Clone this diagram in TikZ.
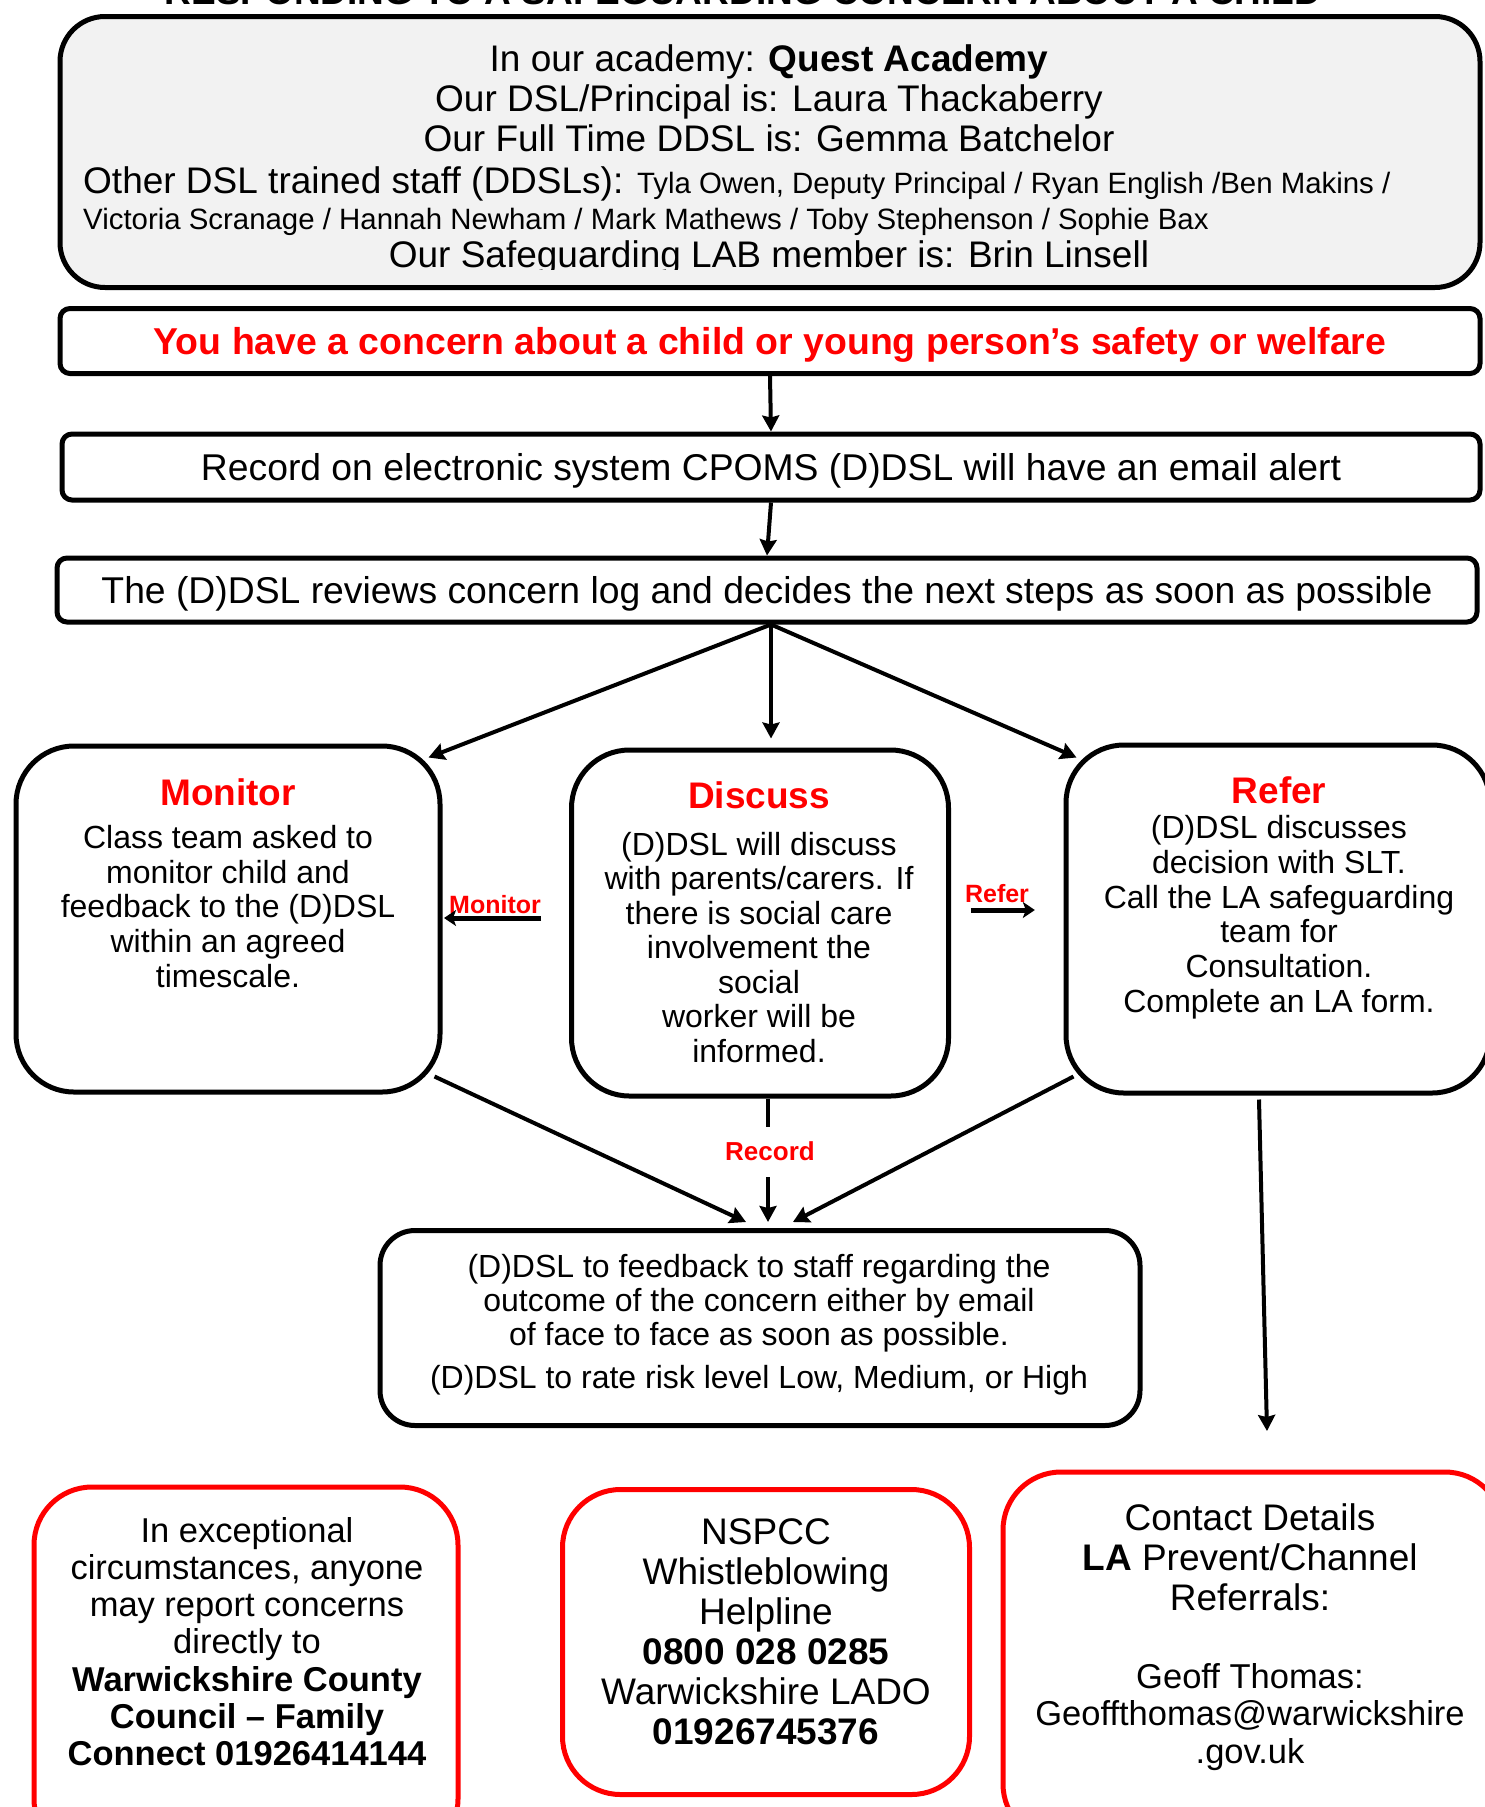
\documentclass[tikz,border=0pt]{standalone}
\usepackage{fontspec}
\setmainfont{Liberation Sans}
\usepackage{tikz}
\usetikzlibrary{arrows.meta}
\usetikzlibrary{positioning}
\tikzset{
    infobox/.style={
           rectangle,
           rounded corners=45pt,
           draw=black, line width=5pt,
           fill=black!5,
           },
    bar/.style={
           rectangle,
           rounded corners=10pt,
           draw=black, line width=5pt,
           text height=28pt, text depth=2pt,
           },
    roundbox/.style={
           rectangle,
           rounded corners=58pt,
           draw=black, line width=5pt,
           },
    contact/.style={
           rectangle,
           rounded corners=58pt,
           draw=red, line width=5pt,
           },
    body/.style={
           align=center,
           inner sep=0pt,
           anchor=north,
           },
    title/.style={
           anchor=base,
           inner sep=0pt,
           text=red,
           font=\fontsize{37}{40}\selectfont\bfseries,
           },
    tag/.style={
           anchor=base,
           inner sep=0pt,
           text=red,
           font=\fontsize{25}{28}\selectfont\bfseries,
           },
    flow/.style={-{Stealth[length=16pt,width=17pt,inset=2pt]}, line width=4pt},
    tagarrow/.style={-{Stealth[length=12pt,width=16pt,inset=3pt]}, line width=5pt},
}

\begin{document}
\begin{tikzpicture}[x=1pt, y=-1pt]
\useasboundingbox (0,0) rectangle (1485,1807);
% heading, cut off at the top of the page
\node[anchor=base, inner sep=0pt, font=\fontsize{37}{40}\selectfont\bfseries] (heading) at (743,4) {RESPONDING TO A SAFEGUARDING CONCERN ABOUT A CHILD};

% who is who
\node[infobox, minimum width=1420, minimum height=271] (academy) at (770,152) {};
\node[body, font=\fontsize{37}{40}\selectfont] (staff) at (769,44) {In our academy: \textbf{Quest Academy}\\Our DSL/Principal is: Laura Thackaberry\\Our Full Time DDSL is: Gemma Batchelor};
\node[anchor=base west, inner sep=0pt, font=\fontsize{37}{40}\selectfont] (others) at (83,193) {Other DSL trained staff (DDSLs): {\fontsize{29.4}{30}\selectfont Tyla Owen, Deputy Principal / Ryan English /Ben Makins /}};
\node[anchor=base west, inner sep=0pt, font=\fontsize{29.4}{30}\selectfont] (others2) at (83,229) {Victoria Scranage / Hannah Newham / Mark Mathews / Toby Stephenson / Sophie Bax};
\begin{scope}
\clip (60,230) rectangle (1480,269);
\node[anchor=base, inner sep=0pt, font=\fontsize{37}{40}\selectfont] (lab) at (769,267) {Our Safeguarding LAB member is: Brin Linsell};
\end{scope}

% steps
\node[bar, minimum width=1420, minimum height=65, text=red, font=\fontsize{37.4}{40}\selectfont\bfseries] (concern) at (770,341) {You have a concern about a child or young person’s safety or welfare};
\node[bar, minimum width=1418, minimum height=66, font=\fontsize{37.3}{40}\selectfont] (record) at (771,467) {Record on electronic system CPOMS (D)DSL will have an email alert};
\node[bar, minimum width=1420, minimum height=64, font=\fontsize{37.3}{40}\selectfont] (reviews) at (767,590) {The (D)DSL reviews concern log and decides the next steps as soon as possible};

% three ways
\node[roundbox, minimum width=424, minimum height=346] (monitor) at (228,919) {};
\node[title] (montitle) at (228,805) {Monitor};
\node[body, font=\fontsize{32}{34.7}\selectfont] (montext) at (228,825) {Class team asked to\\monitor child and\\feedback to the (D)DSL\\within an agreed\\timescale.};

\node[roundbox, minimum width=377, minimum height=346] (discuss) at (760,923) {};
\node[title] (distitle) at (759,808) {Discuss};
\node[body, font=\fontsize{32}{34.5}\selectfont] (distext) at (759,832) {(D)DSL will discuss\\with parents/carers. If\\there is social care\\involvement the\\social\\worker will be\\informed.};

\node[roundbox, minimum width=424, minimum height=348] (refer) at (1278,919) {};
\node[title] (reftitle) at (1279,803) {Refer};
\node[body, font=\fontsize{32}{34.8}\selectfont] (reftext) at (1279,815) {(D)DSL discusses\\decision with SLT.\\Call the LA safeguarding\\team for\\Consultation.\\Complete an LA form.};

\node[roundbox, rounded corners=35pt, minimum width=760, minimum height=195] (feedback) at (760,1328) {};
\node[body, font=\fontsize{32}{34}\selectfont] (fbtext) at (759,1254) {(D)DSL to feedback to staff regarding the\\outcome of the concern either by email\\of face to face as soon as possible.\\[9pt](D)DSL to rate risk level Low, Medium, or High};

% contacts
\node[contact, minimum width=424, minimum height=370] (family) at (246,1672) {};
\node[body, font=\fontsize{34.5}{37.2}\selectfont] (familytext) at (247,1517) {In exceptional\\circumstances, anyone\\may report concerns\\directly to\\\textbf{Warwickshire County}\\\textbf{Council – Family}\\\textbf{Connect 01926414144}};

\node[contact, minimum width=407, minimum height=305] (nspcc) at (766,1642) {};
\node[body, font=\fontsize{37}{40}\selectfont] (nspcctext) at (766,1518) {NSPCC\\Whistleblowing\\Helpline\\\textbf{0800 028 0285}\\Warwickshire LADO\\\textbf{01926745376}};

\node[contact, minimum width=500, minimum height=370] (prevent) at (1253,1657) {};
\node[body, font=\fontsize{37}{40}\selectfont] (preventtext) at (1250,1503) {Contact Details\\\textbf{LA} Prevent/Channel\\Referrals:};
\node[body, font=\fontsize{34.5}{37.5}\selectfont] (geoff) at (1250,1663) {Geoff Thomas:\\Geoffthomas@warwickshire\\.gov.uk};

% arrows
\draw[flow] (concern.south) -- (record.north);
\draw[flow] (record.south) -- (reviews.north);
\draw[flow] ([shift={(4,0)}]reviews.south) -- ([shift={(-14,14)}]monitor.north east);
\draw[flow] ([shift={(4,0)}]reviews.south) -- ([shift={(11,-9)}]discuss.north);
\draw[flow] ([shift={(4,0)}]reviews.south) -- ([shift={(13,15)}]refer.north west);

\node[tag] (montag) at (495,913) {Monitor};
\draw[tagarrow] ([shift={(0,5)}]montag.base east) -- ++(-97,0);
\node[tag] (reftag) at (997,902) {Refer};
\draw[tagarrow] ([shift={(6,8)}]reftag.base west) -- ++(64,0);

\node[tag, font=\fontsize{26}{28}\selectfont\bfseries] (rectag) at (770,1160) {Record};
\draw[line width=4pt] ([shift={(-2,0)}]rectag.north |- discuss.south) -- ([shift={(-2,-14)}]rectag.north);
\draw[flow] ([shift={(-2,17)}]rectag.base) -- ([shift={(8,-6)}]feedback.north);
\draw[flow] ([shift={(-8,-18)}]monitor.south east) -- ([shift={(-14,-6)}]feedback.north);
\draw[flow] ([shift={(10,-19)}]refer.south west) -- ([shift={(33,-6)}]feedback.north);

\coordinate (lalink) at (1267,1431);
\draw[flow] ([shift={(-19,4)}]refer.south) -- (lalink);
\end{tikzpicture}
\end{document}
